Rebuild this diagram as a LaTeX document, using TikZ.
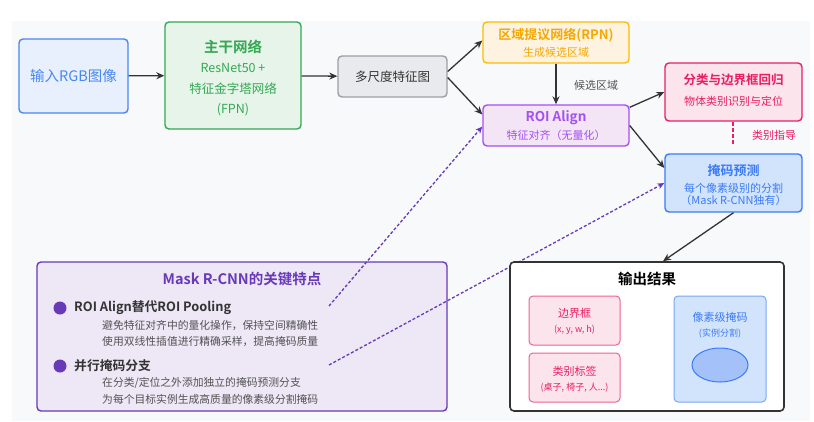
\documentclass[tikz,border=0pt]{standalone}
\usepackage{fontspec}
\setmainfont{Noto Sans CJK SC}[BoldFont={Noto Sans CJK SC Bold}]
\usetikzlibrary{arrows.meta,positioning,shapes.geometric}
\definecolor{bggray}{HTML}{F8F9FA}
\definecolor{inblue}{HTML}{4A86F0}
\definecolor{inbg}{HTML}{E8F0FE}
\definecolor{bbgreen}{HTML}{34A853}
\definecolor{bbbg}{HTML}{E6F4EA}
\definecolor{ftgray}{HTML}{9AA0A6}
\definecolor{ftbg}{HTML}{E8EAED}
\definecolor{rpnorange}{HTML}{FBBC04}
\definecolor{rpntext}{HTML}{F5A800}
\definecolor{rpnbg}{HTML}{FEF3E0}
\definecolor{roiviolet}{HTML}{A450F2}
\definecolor{roibg}{HTML}{F3E5F5}
\definecolor{clspink}{HTML}{E91E63}
\definecolor{clsbg}{HTML}{FCE4EC}
\definecolor{mskblue}{HTML}{3B7BF5}
\definecolor{mskbg}{HTML}{D2E3FC}
\definecolor{keyviolet}{HTML}{673AB7}
\definecolor{keybg}{HTML}{EDE7F6}
\definecolor{darkline}{HTML}{333333}
\definecolor{softpink}{HTML}{F06292}
\definecolor{softblue}{HTML}{7BA7F7}
\definecolor{blobblue}{HTML}{A4C2F9}

\begin{document}
\begin{tikzpicture}[x=1pt,y=-1pt,>=Stealth,
 box/.style={draw,rounded corners=4pt,line width=1.4pt,inner sep=0pt},
 fs/.style={font=\fontsize{#1}{#1}\selectfont},
 fsb/.style={font=\fontsize{#1}{#1}\selectfont\bfseries},
 flow/.style={draw=darkline,line width=1.3pt,arrows={-Stealth[length=8pt,width=7pt]}},
 hint/.style={draw=keyviolet,line width=1.3pt,dash pattern=on 3pt off 2pt,arrows={-Stealth[length=7pt,width=6pt]}}]
\useasboundingbox (0,0) rectangle (814,421);
\fill[bggray] (12,21) rectangle (810,421);

% pipeline boxes
\node[box,draw=inblue,fill=inbg,minimum width=109,minimum height=74,text=inblue,fs=14.5] (img) at (73.5,76) {输入RGB图像};
\node[box,draw=bbgreen,fill=bbbg,minimum width=136,minimum height=107] (bb) at (233,75.5) {};
\node[box,draw=ftgray,fill=ftbg,minimum width=109,minimum height=41,text=darkline,fs=12.5] (feat) at (392.5,76.5) {多尺度特征图};
\node[box,draw=rpnorange,fill=rpnbg,minimum width=146,minimum height=41] (rpn) at (556,42.5) {};
\node[box,draw=roiviolet,fill=roibg,minimum width=146,minimum height=41] (roi) at (556,125.5) {};
\node[box,draw=clspink,fill=clsbg,minimum width=137,minimum height=58] (cls) at (733.5,92) {};
\node[box,draw=mskblue,fill=mskbg,minimum width=137,minimum height=58] (msk) at (733.5,183) {};

% box texts
\node[fsb=14.5,text=bbgreen] (bb1) at (233,47) {主干网络};
\foreach \y/\t [count=\i from 2] in {68/ResNet50 +,89/特征金字塔网络,110/(FPN)}
  \node[fs=12.5,text=bbgreen] (bb\i) at (233,\y) {\t};
\node[fsb=13,text=rpntext] (rpn1) at (556,35) {区域提议网络(RPN)};
\node[fs=11,text=rpntext] (rpn2) at (556,52) {生成候选区域};
\node[fsb=13.5,text=roiviolet] (roi1) at (556,118) {ROI Align};
\node[fs=11,text=roiviolet] (roi2) at (556,135) {特征对齐（无量化）};
\node[fsb=12.5,text=clspink] (cls1) at (733.5,80) {分类与边界框回归};
\node[fs=11,text=clspink] (cls2) at (733.5,101) {物体类别识别与定位};
\node[fsb=13,text=mskblue] (msk1) at (733.5,171) {掩码预测};
\node[fs=11,text=mskblue] (msk2) at (733.5,188) {每个像素级别的分割};
\node[fs=11,text=mskblue] (msk3) at (733.5,200) {（Mask R-CNN独有）};
\node[fs=11,text=darkline!85] (cand) at (596,85) {候选区域};
\node[fs=11,text=clspink] (guide) at (774,135) {类别指导};

% flow
\draw[flow] (img) -- (bb);
\draw[flow] (bb) -- (feat);
\draw[flow] ([yshift=5pt]feat.east) -- ([yshift=2pt]rpn.west);
\draw[flow] ([yshift=-1pt]feat.east) -- ([yshift=11pt]roi.west);
\draw[flow] (rpn) -- (roi);
\draw[flow] ([yshift=-3pt]roi.north east) -- (cls.west);
\draw[flow] (roi.east) -- ([yshift=15pt]msk.west);
\coordinate (cg) at (733,145);
\draw[draw=clspink,line width=2pt,dash pattern=on 4pt off 2pt] (cg |- cls.south) -- (cg);

% key features
\node[box,draw=keyviolet,fill=keybg,minimum width=410,minimum height=149] (key) at (242,336.5) {};
\node[fsb=14.5,text=keyviolet] (key0) at (242,279) {Mask R-CNN的关键特点};
\node[circle,fill=keyviolet,minimum size=13,inner sep=0pt] (dot1) at (60,308) {};
\node[circle,fill=keyviolet,minimum size=13,inner sep=0pt] (dot2) at (60,366) {};
\node[fsb=12.8,text=darkline,anchor=west,inner sep=0pt] (key1) at (74,308) {ROI Align替代ROI Pooling};
\node[fsb=12.8,text=darkline,anchor=west,inner sep=0pt] (key2) at (74,366) {并行掩码分支};
\foreach \y/\t [count=\i] in {326/{避免特征对齐中的量化操作，保持空间精确性},342/{使用双线性插值进行精确采样，提高掩码质量},383/{在分类/定位之外添加独立的掩码预测分支},399/{为每个目标实例生成高质量的像素级分割掩码}}
  \node[fs=10.8,text=darkline!85,anchor=west,inner sep=0pt] (kd\i) at (102,\y) {\t};
\coordinate (k1) at (329,306);
\coordinate (k2) at (329,365);
\draw[hint] (k1) -- ([yshift=-1pt]roi.west);
\draw[hint] (k2) -- (msk.west);

% output
\node[box,draw=darkline,fill=white,line width=1.6pt,minimum width=274,minimum height=149] (out) at (647,336.5) {};
\node[fsb=14.5,text=black] (out0) at (647,279) {输出结果};
\node[box,draw=softpink,fill=clsbg,line width=1pt,minimum width=91,minimum height=49] (bbx) at (574.5,320.5) {};
\node[box,draw=softpink,fill=clsbg,line width=1pt,minimum width=91,minimum height=49] (lbl) at (574.5,377.5) {};
\node[box,draw=softblue,fill=mskbg,line width=1pt,minimum width=92,minimum height=106] (pix) at (720,349) {};
\node[fs=11,text=clspink] (bbx1) at (574.5,313) {边界框};
\node[fs=9,text=clspink] (bbx2) at (574.5,330) {(x, y, w, h)};
\node[fs=11,text=clspink] (lbl1) at (574.5,371) {类别标签};
\node[fs=9,text=clspink] (lbl2) at (574.5,388) {(桌子, 椅子, 人...)};
\node[fs=11,text=mskblue] (pix1) at (720,317) {像素级掩码};
\node[fs=9,text=mskblue] (pix2) at (720,334) {(实例分割)};
\node[ellipse,draw=mskblue,fill=blobblue,line width=1pt,minimum width=56,minimum height=34] (blob) at (720,365) {};
\draw[flow] (msk.south) -- ([xshift=16pt]out.north);
\end{tikzpicture}
\end{document}
